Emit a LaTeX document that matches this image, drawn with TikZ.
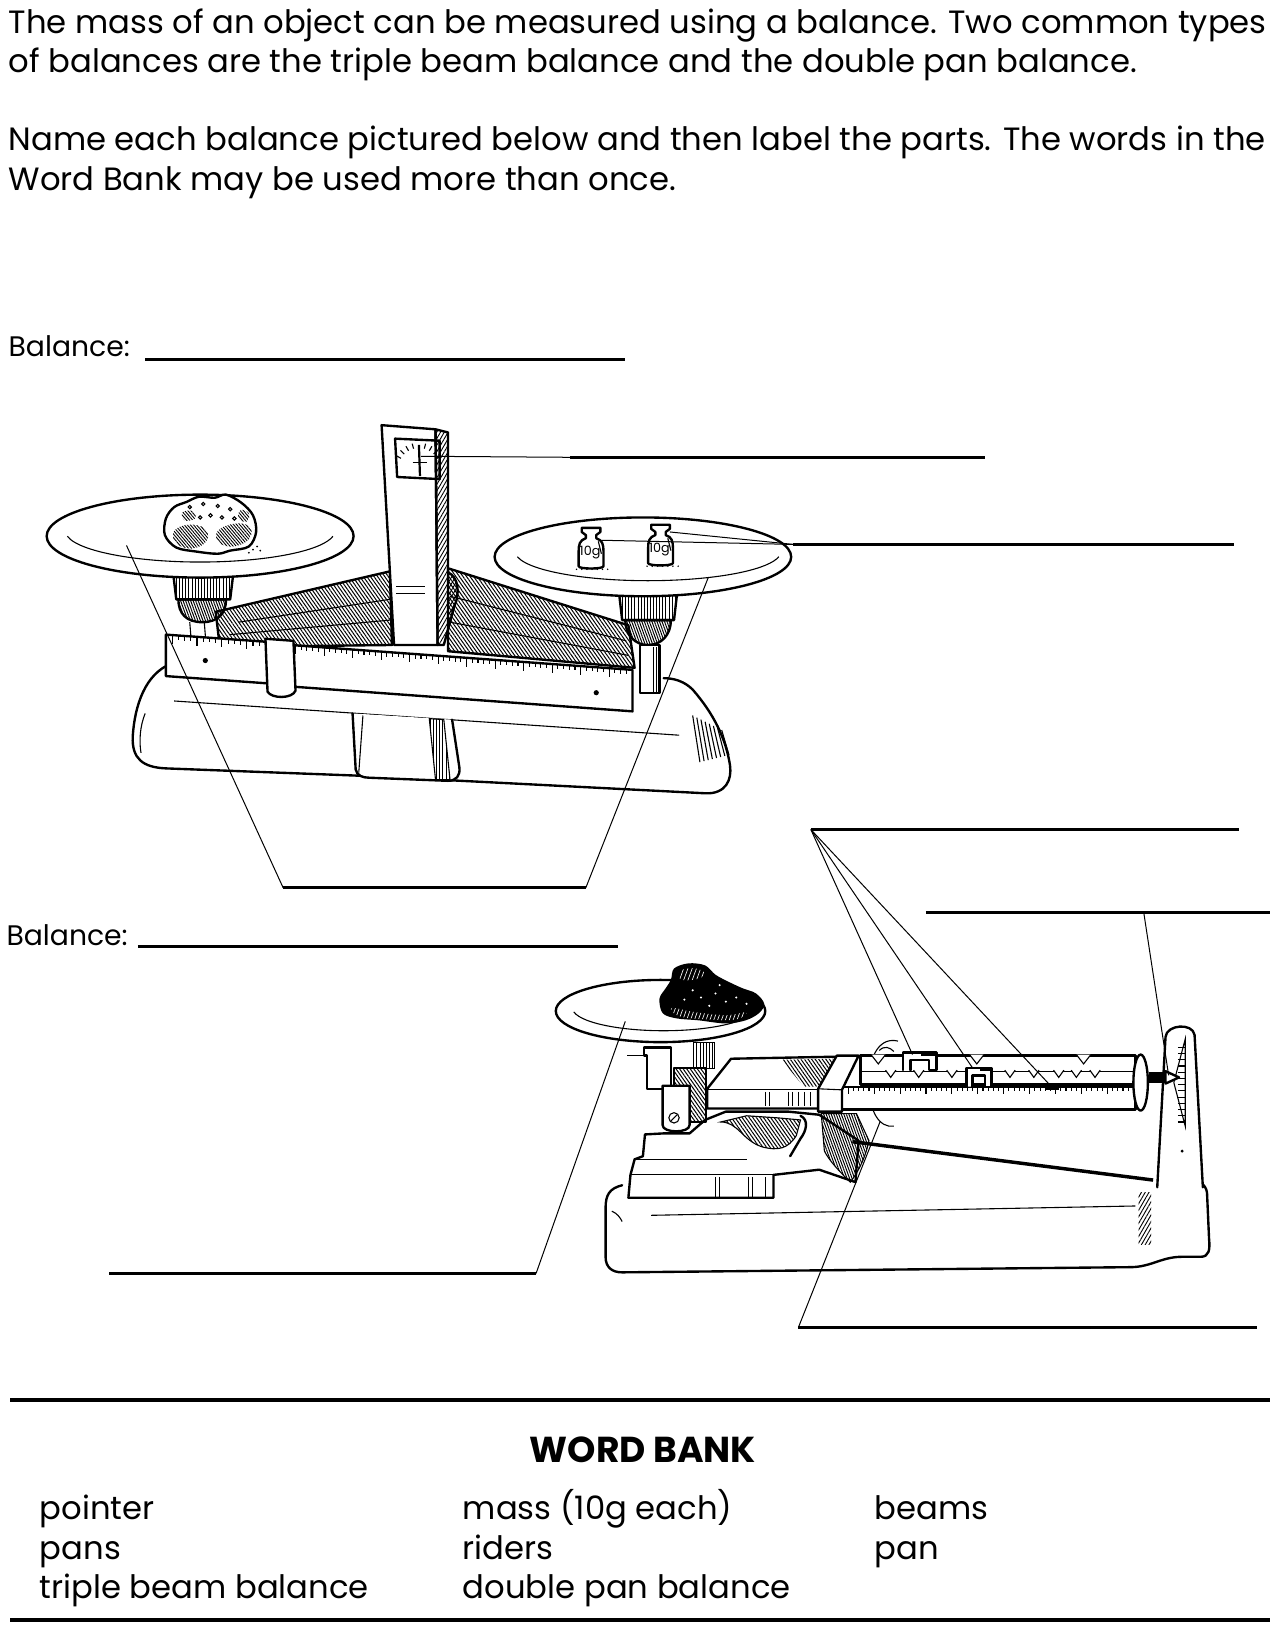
\documentclass[tikz,border=0pt]{standalone}
\usepackage{fontspec}
\setmainfont{Poppins}
\usetikzlibrary{patterns.meta}
\begin{document}
\begin{tikzpicture}[x=0.02cm,y=-0.02cm,
  ansline/.style={line width=1.7pt},
  leader/.style={line width=0.55pt},
  outline/.style={line width=1.3pt, line join=round, line cap=round},
  thinl/.style={line width=0.6pt},
  hatchA/.style={pattern={Lines[angle=-55,distance=1.6pt,line width=0.55pt]}},
  hatchB/.style={pattern={Lines[angle=60,distance=1.8pt,line width=0.5pt]}},
  hatchV/.style={pattern={Lines[angle=90,distance=1.7pt,line width=0.5pt]}},
  hatchX/.style={pattern={Lines[angle=-70,distance=1.3pt,line width=0.55pt]}},
  hatchR/.style={pattern={Lines[angle=-50,distance=1.3pt,line width=0.5pt]}},
  txt/.style={inner sep=0, anchor=base west, font=\fontsize{17.7}{20}\selectfont},
  lbl/.style={inner sep=0, anchor=base west, font=\fontsize{15.5}{18}\selectfont},
  wb/.style={inner sep=0, anchor=base west, font=\fontsize{17.7}{20}\selectfont},
  weightpic/.pic={
    \draw[outline, fill=white] (-9,-19) -- (9,-19) -- (9,-15) -- (5,-12) -- (5,-9)
      .. controls (11,-7) and (12,-3) .. (12,4) -- (12,18) .. controls (12,21) and (-12,21) .. (-12,18)
      -- (-12,4) .. controls (-12,-3) and (-11,-7) .. (-5,-9) -- (-5,-12) -- (-9,-15) -- cycle;
    \draw[thinl] (7,-6) -- (10,6);
    \node[inner sep=0, font=\fontsize{7}{8}\selectfont] (lbl) at (-1,5) {10g};
  }
]
\useasboundingbox (0,0) rectangle (1240,1570);

% ---------------- header text ----------------
\node[txt] (t1) at (8,32) {The mass of an object can be measured using a balance. Two common types};
\node[txt] (t2) at (8,70) {of balances are the triple beam balance and the double pan balance.};
\node[txt] (t3) at (8,145) {Name each balance pictured below and then label the parts. The words in the};
\node[txt] (t4) at (8,184) {Word Bank may be used more than once.};

% ---------------- balance name lines ----------------
\node[lbl] (b1) at (8,344) {Balance:};
\coordinate (b1s) at (140,347); \coordinate (b1e) at (603,347);
\draw[ansline] (b1s) -- (b1e);
\node[lbl] (b2) at (6,912) {Balance:};
\coordinate (b2s) at (133,913); \coordinate (b2e) at (596,913);
\draw[ansline] (b2s) -- (b2e);

% ================= DOUBLE PAN BALANCE =================
% base
\draw[outline, fill=white] (165,640) .. controls (140,650) and (130,680) .. (128,710)
  .. controls (127,732) and (138,740) .. (160,741) -- (345,748) -- (445,753) -- (680,765)
  .. controls (700,766) and (706,752) .. (704,738) .. controls (700,712) and (688,688) .. (668,665)
  .. controls (660,657) and (650,654) .. (640,654);
\draw[thinl] (168,676) -- (655,709);
\draw[thinl] (140,688) .. controls (135,700) and (134,715) .. (136,726);
\foreach \i in {0,...,7} {\draw[thinl] (668+4*\i,690+2*\i) -- (675+4*\i,735-\i);}
% foot
\draw[outline, fill=white] (340,688) -- (343,742) .. controls (344,748) and (350,750) .. (356,750)
  -- (432,753) .. controls (440,753) and (444,748) .. (443,740) -- (436,694);
\draw[thinl, hatchV] (414,693) -- (428,694) -- (434,752) -- (420,752) -- cycle;
\draw[thinl] (350,690) -- (346,745);

% hatched body
\draw[outline, hatchA] (208,590) -- (376,551) -- (378,622) -- (212,624) -- cycle;
\draw[thinl] (230,600) -- (376,578);
\draw[thinl] (222,612) -- (376,598);
\draw[outline, hatchA] (432,548) -- (606,603) -- (612,644) -- (432,628) -- cycle;
\draw[thinl] (434,575) -- (604,618);
\draw[thinl] (434,600) -- (606,632);

% column
\draw[outline, fill=white] (368,410) -- (420,414) -- (422,622) -- (380,622) -- cycle;
\draw[outline, hatchB] (420,414) -- (432,417) -- (432,552) .. controls (442,556) and (444,572) .. (438,585)
  -- (428,622) -- (422,622) -- cycle;
\draw[thinl] (382,566) -- (410,566);
\draw[thinl] (382,572) -- (410,572);
% window
\draw[outline] (381,423) -- (424,425) -- (424,462) -- (383,460) -- cycle;
\foreach \a in {-60,-45,-30,-15,15,30,45,60} {\draw[thinl] (404,452) ++(90+\a:-20) -- ++(90+\a:-5);}
\draw[line width=1.2pt] (404,429) -- (405,459);
\draw[thinl] (398,446) -- (412,446);

% left pan support
\draw[outline, hatchV] (167,553) -- (170,578) -- (222,578) -- (225,553) -- cycle;
\draw[outline, hatchX] (172,578) .. controls (172,592) and (180,600) .. (195,600)
  .. controls (210,600) and (218,592) .. (218,578) -- cycle;
\draw[thinl] (183,600) -- (185,625);
\draw[thinl] (197,600) -- (199,625);
% right pan support
\draw[outline, hatchV] (597,572) -- (600,598) -- (650,598) -- (653,572) -- cycle;
\draw[outline, hatchX] (603,598) .. controls (603,612) and (612,622) .. (625,622)
  .. controls (638,622) and (647,612) .. (647,598) -- cycle;
\draw[outline, fill=white] (617,622) -- (636,622) -- (636,668) -- (617,668) -- cycle;
\fill[hatchV] (628,624) rectangle (635,667);

% left pan
\draw[outline, fill=white] (193,517) ellipse [x radius=148, y radius=40];
\draw[thinl] (193,512) ++(170:130 and 30) arc[start angle=170, end angle=10, x radius=130, y radius=30];
% rock
\draw[outline, fill=white] plot[smooth cycle, tension=0.55] coordinates
  {(160,500) (168,489) (180,484) (192,479) (207,480) (218,477) (233,485) (244,497) (247,513) (240,527) (222,531) (210,534) (190,532) (170,528) (159,516)};
\fill[hatchR] plot[smooth cycle, tension=0.7] coordinates {(168,512) (182,506) (198,510) (199,522) (185,529) (170,524)};
\fill[hatchR] plot[smooth cycle, tension=0.7] coordinates {(210,512) (226,505) (241,508) (240,520) (225,527) (211,523)};
\fill[hatchR] plot[smooth cycle, tension=0.7] coordinates {(176,494) (186,493) (188,500) (178,502)};
\fill[hatchR] plot[smooth cycle, tension=0.7] coordinates {(232,492) (240,495) (238,503) (230,500)};
\foreach \p in {(183,489),(196,486),(210,488),(222,491),(203,497),(214,499),(193,499),(226,500)} {\draw[thinl] \p circle[radius=1.6];}
\foreach \p in {(244,530),(248,527),(251,531),(240,533)} {\fill \p circle[radius=0.9];}

% right pan
\draw[outline, fill=white] (620,537) ellipse [x radius=143, y radius=38];
\draw[thinl] (625,532) ++(170:128 and 28) arc[start angle=170, end angle=10, x radius=128, y radius=28];
\pic (w1) at (570,528) {weightpic};
\pic (w2) at (637,525) {weightpic};
\foreach \x in {556,561,566,571,576,581,586} {\fill (\x,549) circle[radius=0.8];}
\foreach \x in {624,629,634,639,644,649,654} {\fill (\x,546) circle[radius=0.8];}

% ruler / beam
\draw[outline, fill=white] (160,612) -- (272,620) -- (272,660) -- (160,652) -- cycle;
\foreach \i in {0,...,17} {\draw[thinl] (166+6*\i,{612.4+0.073*(6+6*\i)}) -- ++(0,{ifthenelse(mod(\i,4)==0,8,4)});}
\draw[outline, fill=white] (280,622) -- (610,646) -- (610,686) -- (280,662) -- cycle;
\foreach \i in {0,...,58} {\draw[thinl] (285+5.5*\i,{622.4+0.0727*(5+5.5*\i)}) -- ++(0,{ifthenelse(mod(\i,5)==0,8,4)});}
\draw[outline, fill=white] (256,616) -- (283,618) -- (285,666) .. controls (282,674) and (262,674) .. (258,667) -- cycle;
\fill (198,637) circle[radius=2.5];
\fill (575,668) circle[radius=2.5];

% labels of double pan balance
\coordinate (ptA) at (406,440); \coordinate (ptB) at (550,441); \coordinate (ptC) at (950,441);
\draw[leader] (ptA) -- (ptB);
\draw[ansline] (ptB) -- (ptC);
\coordinate (wA) at (580,521); \coordinate (wB) at (646,513); \coordinate (wC) at (765,525); \coordinate (wD) at (1190,525);
\draw[leader] (wA) -- (wC);
\draw[leader] (wB) -- (wC);
\draw[ansline] (wC) -- (wD);
\coordinate (pL) at (122,526); \coordinate (pR) at (683,557);
\coordinate (pBL) at (273,856); \coordinate (pBR) at (565,856);
\draw[leader] (pL) -- (pBL);
\draw[ansline] (pBL) -- (pBR);
\draw[leader] (pBR) -- (pR);

% ================= TRIPLE BEAM BALANCE =================
% base
\draw[outline, fill=white] (600,1143) .. controls (588,1146) and (584,1152) .. (584,1165) -- (584,1212)
  .. controls (584,1222) and (590,1227) .. (600,1227) -- (1090,1222)
  .. controls (1110,1222) and (1120,1212) .. (1140,1212) -- (1158,1212)
  .. controls (1166,1212) and (1167,1205) .. (1166,1195) -- (1164,1150)
  .. controls (1163,1142) and (1155,1138) .. (1150,1138);
\draw[thinl] (628,1172) -- (1095,1163);
\draw[thinl] (590,1168) .. controls (595,1170) and (598,1174) .. (600,1178);
\fill[hatchB] (1098,1150) rectangle (1110,1200);
% casting
\draw[outline, fill=white] (640,1093) -- (622,1094) -- (620,1115) -- (612,1118) -- (608,1133) -- (606,1155)
  -- (746,1155) -- (746,1133) -- (790,1128) -- (825,1140) -- (828,1100) -- (790,1075) -- (760,1072)
  -- (700,1072) -- (680,1080) -- (665,1093) -- cycle;
\draw[thinl] (612,1118) -- (720,1118);
\draw[thinl] (608,1133) -- (746,1133);
\foreach \x in {690,694,722,726,738} {\draw[thinl] (\x,1135) -- (\x,1155);}
\draw[thinl, hatchA] (695,1082) .. controls (712,1082) and (716,1100) .. (735,1106) .. controls (750,1110) and (760,1108) .. (768,1095)
  -- (772,1080) -- (750,1078) -- (720,1076) -- cycle;
\draw[outline] (772,1076) .. controls (780,1080) and (778,1090) .. (772,1098) -- (762,1115);
\draw[thinl, hatchX] (792,1074) -- (826,1074) -- (838,1100) .. controls (835,1115) and (828,1130) .. (820,1140)
  .. controls (810,1130) and (800,1120) .. (795,1110) -- cycle;
% tie bar
\draw[line width=1.9pt] (822,1101) -- (1112,1138);
% stand
\draw[outline, fill=white] (1116,1145) -- (1124,1000) .. controls (1125,988) and (1150,986) .. (1152,998)
  -- (1160,1145);
\draw[thinl] (1143,1002) -- (1132,1044) -- (1143,1086) -- cycle;
\foreach \i in {0,...,12} {\draw[thinl] (1136,{1010+6*\i}) -- (1143,{1010+6*\i});}
\draw[thinl] (1140,1110) circle[radius=0.8];
% pan post / hanger
\draw[thinl, hatchV] (669,1005) rectangle (689,1030);
\draw[outline, hatchA] (650,1030) -- (681,1030) -- (681,1082) -- (650,1082) -- cycle;
\draw[thinl] (605,1018) -- (621,1018);
\draw[outline, fill=white] (621,1010) -- (647,1010) -- (647,1050) -- (624,1050) -- (624,1018) -- (621,1018) -- cycle;
\draw[outline, fill=white] (639,1047) -- (665,1047) -- (665,1085) .. controls (665,1093) and (639,1093) .. (639,1085) -- cycle;
\draw[thinl] (650,1078) circle[radius=5];
\draw[thinl] (647,1081) -- (653,1075);
% beam body
\draw[outline, fill=white] (705,1021) -- (808,1019) -- (808,1069) -- (682,1069) -- (682,1050) -- cycle;
\draw[thinl] (682,1051) -- (806,1051);
\fill[hatchA] (754,1022) -- (803,1021) -- (803,1048) -- (775,1048) -- cycle;
\foreach \x in {738,742,760,764,770,776,782} {\draw[thinl] (\x,1053) -- (\x,1067);}
% ring around beams (behind)
\draw[thinl] (866,1004) .. controls (850,1000) and (838,1015) .. (838,1045) .. controls (838,1072) and (848,1088) .. (862,1086);
\draw[thinl] (848,1013) .. controls (853,1008) and (858,1010) .. (862,1014);
% beams
\draw[outline, fill=white] (830,1018) -- (1095,1018) -- (1095,1046) -- (830,1046) -- cycle;
\draw[thinl] (830,1033) -- (1095,1033);
\foreach \x in {847,942,1045} {\draw[thinl, fill=white] (\x-7,1017) -- (\x,1026) -- (\x+7,1017);}
\foreach \x in {859,886,918,974,997,1021,1038,1056} {\draw[thinl, fill=white] (\x-5,1032) -- (\x,1039) -- (\x+5,1032);}
\draw[outline, fill=white] (812,1048) -- (1095,1048) -- (1095,1070) -- (812,1070) -- cycle;
\foreach \i in {0,...,55} {\draw[thinl] (818+5*\i,1049) -- ++(0,{ifthenelse(mod(\i,5)==0,6,3)});}
% riders
\draw[outline, fill=white] (871,1032) -- (871,1015) -- (903,1015) -- (903,1032) -- (896,1032) -- (896,1022) -- (878,1022) -- (878,1032);
\fill (888,1014) rectangle (903,1018);
\draw[outline, fill=white] (932,1048) -- (932,1030) -- (956,1030) -- (956,1048) -- (950,1048) -- (950,1037) -- (938,1037) -- (938,1048);
\fill (945,1029) rectangle (956,1033);
\fill (1008,1047) rectangle (1021,1051);
% end cap, spindle, pointer
\draw[outline, fill=white] (1100,1044) ellipse [x radius=7, y radius=27];
\fill (1108,1034) rectangle (1124,1044);
\draw[outline, fill=white] (1124,1033) -- (1137,1039) -- (1124,1045) -- cycle;
% slider
\draw[outline, fill=white] (807,1018) -- (828,1018) -- (812,1051) -- (812,1072) -- (789,1072) -- (789,1050) -- cycle;
\draw[thinl] (789,1050) -- (812,1051);
% pan
\draw[outline, fill=white] (637,975) ellipse [x radius=101, y radius=30];
\draw[thinl] (640,972) ++(170:88 and 22) arc[start angle=170, end angle=10, x radius=88, y radius=22];
% rock
\fill[black] plot[smooth cycle, tension=0.55] coordinates
  {(650,934) (664,929) (680,931) (690,940) (703,947) (716,953) (729,958) (737,968) (732,977) (719,984) (700,987) (674,984) (652,982) (639,977) (636,963) (642,953) (647,945)};
\fill[pattern={Lines[angle=70,distance=2.2pt,line width=0.35pt]}, pattern color=white]
  plot[smooth cycle, tension=0.7] coordinates {(656,936) (672,934) (680,940) (668,945) (656,944)};
\fill[pattern={Lines[angle=70,distance=2pt,line width=0.35pt]}, pattern color=white]
  plot[smooth cycle, tension=0.7] coordinates {(648,972) (670,976) (700,979) (720,976) (710,983) (680,983) (655,980)};
\foreach \p in {(668,955),(676,962),(690,958),(700,966),(710,962),(684,970),(694,950),(720,968),(660,964)} {\fill[white] \p circle[radius=1.1];}

% labels of triple beam balance
\coordinate (bmA) at (782,800); \coordinate (bmB) at (1195,800);
\draw[ansline] (bmA) -- (bmB);
\coordinate (r1) at (880,1017); \coordinate (r2) at (938,1030); \coordinate (r3) at (1015,1049);
\draw[leader] (bmA) -- (r1);
\draw[leader] (bmA) -- (r2);
\draw[leader] (bmA) -- (r3);
\coordinate (poA) at (893,880); \coordinate (poB) at (1225,880); \coordinate (poK) at (1103,880); \coordinate (poT) at (1127,1037);
\draw[ansline] (poA) -- (poB);
\draw[leader] (poK) -- (poT);
\coordinate (paT) at (603,985); \coordinate (paK) at (517,1228); \coordinate (paE) at (105,1228);
\draw[leader] (paT) -- (paK);
\draw[ansline] (paK) -- (paE);
\coordinate (brT) at (849,1081); \coordinate (brK) at (770,1280); \coordinate (brE) at (1212,1280);
\draw[leader] (brT) -- (brK);
\draw[ansline] (brK) -- (brE);

% ================= WORD BANK =================
\coordinate (wbL1) at (10,1350); \coordinate (wbR1) at (1225,1350);
\draw[line width=2.2pt] (wbL1) -- (wbR1);
\node[inner sep=0, anchor=base, font=\fontsize{19.8}{22}\selectfont\bfseries] (wbt) at (620,1410) {WORD BANK};
\node[wb] (w11) at (38,1465) {pointer};
\node[wb] (w12) at (38,1504) {pans};
\node[wb] (w13) at (38,1542) {triple beam balance};
\node[wb] (w21) at (446,1465) {mass (10g each)};
\node[wb] (w22) at (446,1504) {riders};
\node[wb] (w23) at (446,1542) {double pan balance};
\node[wb] (w31) at (843,1465) {beams};
\node[wb] (w32) at (843,1504) {pan};
\coordinate (wbL2) at (10,1562); \coordinate (wbR2) at (1225,1562);
\draw[line width=2.2pt] (wbL2) -- (wbR2);
\end{tikzpicture}
\end{document}
